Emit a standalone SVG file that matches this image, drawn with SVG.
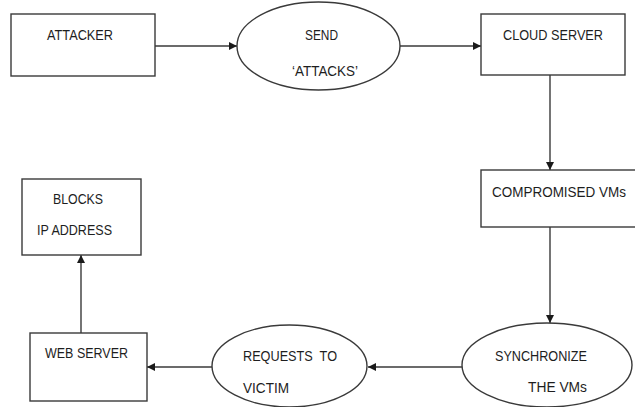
<svg xmlns="http://www.w3.org/2000/svg" width="635" height="407" viewBox="0 0 635 407">
<style>
.box{fill:#fff;stroke:#3a3a3a;stroke-width:1.4}
.ell{fill:#fff;stroke:#3a3a3a;stroke-width:1.4}
.lbl{font-family:"Liberation Sans",Arial,sans-serif;font-size:15.5px;fill:#1e1e1e}
.conn{stroke:#3a3a3a;stroke-width:1.4;fill:none;marker-end:url(#ah)}
</style>
<defs>
<marker id="ah" viewBox="0 0 10 10" refX="10" refY="5" markerWidth="8" markerHeight="8" markerUnits="userSpaceOnUse" orient="auto">
<path d="M0,0 L10,5 L0,10 z" fill="#1a1a1a"/>
</marker>
</defs>
<rect width="635" height="407" fill="#fff"/>
<g id="connectors">
<line class="conn" x1="155" y1="46" x2="237" y2="46"/>
<line class="conn" x1="400" y1="46" x2="481" y2="46"/>
<line class="conn" x1="550" y1="75" x2="550" y2="170"/>
<line class="conn" x1="550" y1="227" x2="550" y2="323"/>
<line class="conn" x1="462" y1="367" x2="368" y2="367"/>
<line class="conn" x1="212" y1="367" x2="147" y2="367"/>
<line class="conn" x1="81" y1="333" x2="81" y2="255"/>
</g>
<g id="attacker">
<rect class="box" x="11" y="14" width="144" height="62"/>
<text class="lbl" x="47" y="40" textLength="66" lengthAdjust="spacingAndGlyphs">ATTACKER</text>
</g>
<g id="send">
<ellipse class="ell" cx="318.5" cy="46" rx="81.5" ry="44"/>
<text class="lbl" x="305" y="40" textLength="33" lengthAdjust="spacingAndGlyphs">SEND</text>
<text class="lbl" x="292" y="76" textLength="66" lengthAdjust="spacingAndGlyphs">‘ATTACKS’</text>
</g>
<g id="cloud">
<rect class="box" x="481" y="14" width="144" height="61"/>
<text class="lbl" x="503" y="40" textLength="100" lengthAdjust="spacingAndGlyphs">CLOUD SERVER</text>
</g>
<g id="compromised">
<rect class="box" x="481" y="170" width="160" height="57"/>
<text class="lbl" x="492" y="197" style="font-size:14.5px" textLength="134" lengthAdjust="spacingAndGlyphs">COMPROMISED VMs</text>
</g>
<g id="synchronize">
<ellipse class="ell" cx="547" cy="365" rx="85" ry="42"/>
<text class="lbl" x="495" y="361" textLength="92" lengthAdjust="spacingAndGlyphs">SYNCHRONIZE</text>
<text class="lbl" x="528" y="392" textLength="59" lengthAdjust="spacingAndGlyphs">THE VMs</text>
</g>
<g id="requests">
<ellipse class="ell" cx="289.5" cy="366" rx="77.5" ry="41"/>
<text class="lbl" x="243" y="361" textLength="94" lengthAdjust="spacingAndGlyphs" xml:space="preserve">REQUESTS  TO</text>
<text class="lbl" x="243" y="393" textLength="46" lengthAdjust="spacingAndGlyphs">VICTIM</text>
</g>
<g id="webserver">
<rect class="box" x="30" y="333" width="117" height="68"/>
<text class="lbl" x="45" y="358" textLength="83" lengthAdjust="spacingAndGlyphs">WEB SERVER</text>
</g>
<g id="blocks">
<rect class="box" x="22" y="179" width="119" height="76"/>
<text class="lbl" x="53" y="204" textLength="50" lengthAdjust="spacingAndGlyphs">BLOCKS</text>
<text class="lbl" x="37" y="235" textLength="75" lengthAdjust="spacingAndGlyphs">IP ADDRESS</text>
</g>
</svg>
